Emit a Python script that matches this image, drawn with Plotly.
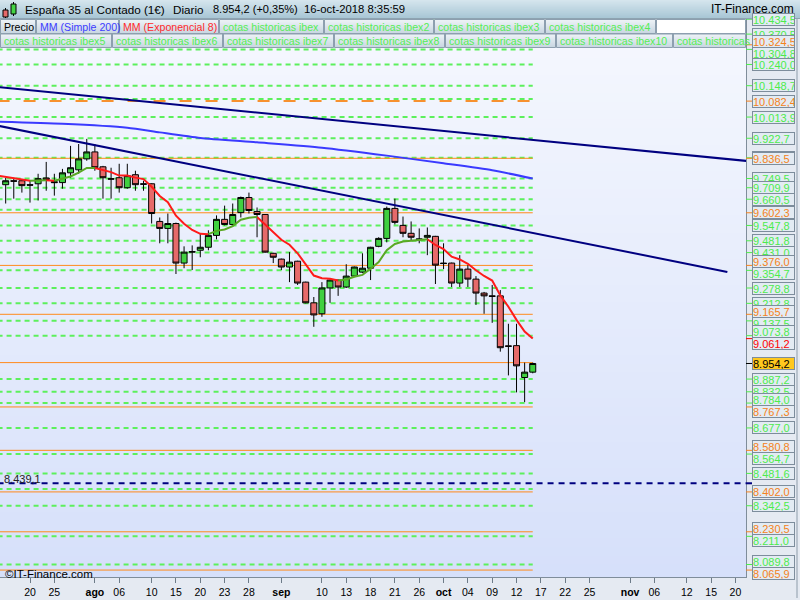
import base64, struct, zlib
import pandas as pd
import plotly.graph_objects as go

# ---------------- data ----------------
calendar = pd.bdate_range("2018-07-16", "2018-11-23")
candle_dates = pd.bdate_range("2018-07-17", "2018-10-16")

opens = [9723, 9740, 9740, 9723, 9727, 9752, 9736, 9732, 9774, 9787,
         9834, 9864, 9800, 9749, 9753, 9710, 9766, 9727, 9727, 9565,
         9535, 9556, 9386, 9433, 9441, 9454, 9505, 9574, 9552, 9603,
         9668, 9608, 9595, 9428, 9403, 9369, 9394, 9304, 9215, 9168,
         9279, 9313, 9283, 9330, 9347, 9364, 9458, 9492, 9621, 9548,
         9514, 9490, 9497, 9501, 9386, 9386, 9300, 9360, 9317, 9257,
         9245, 9245, 9030, 9031, 8894, 8917]
highs = [9753, 9753, 9742, 9740, 9770, 9821, 9770, 9791, 9890, 9898,
         9920, 9898, 9804, 9796, 9813, 9813, 9783, 9740, 9729, 9582,
         9599, 9560, 9458, 9462, 9514, 9527, 9591, 9633, 9642, 9672,
         9689, 9625, 9597, 9430, 9405, 9433, 9396, 9306, 9240, 9304,
         9315, 9315, 9381, 9371, 9428, 9456, 9497, 9629, 9663, 9586,
         9565, 9535, 9539, 9503, 9471, 9388, 9420, 9377, 9330, 9262,
         9292, 9270, 9125, 9125, 8958, 8958]
lows = [9642, 9663, 9689, 9646, 9655, 9697, 9676, 9706, 9753, 9770,
        9826, 9783, 9663, 9663, 9689, 9706, 9697, 9697, 9556, 9471,
        9471, 9339, 9364, 9356, 9411, 9441, 9488, 9548, 9548, 9582,
        9599, 9497, 9431, 9386, 9356, 9304, 9292, 9213, 9112, 9155,
        9215, 9245, 9279, 9326, 9343, 9313, 9454, 9475, 9552, 9497,
        9484, 9471, 9420, 9296, 9360, 9283, 9283, 9283, 9206, 9168,
        9129, 9005, 8903, 8830, 8788, 8912]
closes = [9740, 9738, 9719, 9721, 9749, 9745, 9732, 9774, 9796, 9834,
          9864, 9796, 9753, 9747, 9710, 9762, 9723, 9725, 9599, 9535,
          9556, 9386, 9433, 9435, 9454, 9505, 9574, 9552, 9595, 9668,
          9612, 9595, 9433, 9411, 9369, 9390, 9300, 9215, 9163, 9279,
          9313, 9283, 9330, 9369, 9364, 9454, 9492, 9621, 9561, 9514,
          9497, 9488, 9505, 9377, 9384, 9300, 9360, 9317, 9257, 9245,
          9243, 9022, 9028, 8944, 8917, 8954.2]

ema_period = 8
ema_seed = 9762  # EMA value on 2018-07-16

sma200_dates = ["2018-07-16", "2018-07-26", "2018-08-07", "2018-08-13", "2018-08-20",
                "2018-08-29", "2018-09-10", "2018-09-20", "2018-10-01", "2018-10-09",
                "2018-10-16"]
sma200_values = [9994, 9985, 9968, 9948, 9924, 9905, 9882, 9848, 9815, 9785, 9749.5]

trend1_dates = ["2018-07-16", "2018-11-22"]
trend1_values = [10143, 9823]
trend2_dates = ["2018-07-16", "2018-11-19"]
trend2_values = [9977, 9348]

green_levels = [10434.5, 10370.5, 10304.8, 10240.0, 10148.7, 10013.9, 9922.7, 9838.6,
                9749.5, 9709.9, 9660.5, 9547.8, 9481.8, 9431.0, 9354.7, 9278.8, 9212.8,
                9137.5, 9073.8, 8887.2, 8832.5, 8784.0, 8677.0, 8564.7, 8481.6, 8342.5,
                8211.0, 8089.8]
green_levels_hidden = [10091.5, 9615.0, 8414.0]
orange_levels = [10324.5, 9836.5, 9602.3, 9376.0, 9165.7, 8767.3, 8580.8, 8402.0,
                 8230.5, 8065.9]
orange_dashed_levels = [10082.4]
orange_levels_hidden = [8958.0]
support_level = 8439.1

tick_dates = ["2018-07-20", "2018-07-25", "2018-08-01", "2018-08-06", "2018-08-10",
              "2018-08-15", "2018-08-20", "2018-08-23", "2018-08-28", "2018-09-03",
              "2018-09-10", "2018-09-13", "2018-09-18", "2018-09-21", "2018-09-26",
              "2018-10-01", "2018-10-04", "2018-10-09", "2018-10-12", "2018-10-17",
              "2018-10-22", "2018-10-25", "2018-11-01", "2018-11-06", "2018-11-12",
              "2018-11-15", "2018-11-20"]
tick_labels = ["20", "25", "ago", "06", "10", "15", "20", "23", "28", "sep", "10", "13",
               "18", "21", "26", "oct", "04", "09", "12", "17", "22", "25", "nov", "06",
               "12", "15", "20"]
month_labels = {"ago", "sep", "oct", "nov"}

legend_row1 = ["Precio", "MM (Simple 200)", "MM (Exponencial 8)", "cotas historicas ibex",
               "cotas historicas ibex2", "cotas historicas ibex3", "cotas historicas ibex4", ""]
legend_row2 = ["cotas historicas ibex5", "cotas historicas ibex6", "cotas historicas ibex7",
               "cotas historicas ibex8", "cotas historicas ibex9", "cotas historicas ibex10",
               "cotas historicas"]

title_text = "España 35 al Contado (1€)"
period_text = "Diario"
price_text = "8.954,2 (+0,35%)"
time_text = "16-oct-2018 8:35:59"
brand_text = "IT-Finance.com"
copyright_text = "©IT-Finance.com"

# ---------------- helpers ----------------
pos = {d.strftime("%Y-%m-%d"): i for i, d in enumerate(calendar)}
cx = [pos[d.strftime("%Y-%m-%d")] for d in candle_dates]

W, H = 800, 600
ML, MR, MT, MB = 0, 54, 18, 23
PW, PH = W - ML - MR, H - MT - MB
YR = [8036.1, 10439.8]
XR = [0.3, 92.3]
FONT = "Liberation Sans, Arial, sans-serif"


def PX(x):
    return (x - ML) / PW


def PY(y):
    return (H - MB - y) / PH


def v2px(v):
    return MT + (YR[1] - v) / (YR[1] - YR[0]) * PH


def fmt(v):
    s = f"{v:,.1f}"
    return s.replace(",", "X").replace(".", ",").replace("X", ".")


def grad_png(c0, c1, n=64):
    raw = b""
    for i in range(n):
        t = i / (n - 1)
        raw += b"\x00" + bytes([round(a + (b - a) * t) for a, b in zip(c0, c1)])

    def chunk(typ, data):
        return (struct.pack(">I", len(data)) + typ + data +
                struct.pack(">I", zlib.crc32(typ + data) & 0xffffffff))
    png = (b"\x89PNG\r\n\x1a\n" +
           chunk(b"IHDR", struct.pack(">IIBBBBB", 1, n, 8, 2, 0, 0, 0)) +
           chunk(b"IDAT", zlib.compress(raw)) + chunk(b"IEND", b""))
    return "data:image/png;base64," + base64.b64encode(png).decode()


fig = go.Figure()
shapes, annotations, images = [], [], []

# plot background gradient
images.append(dict(source=grad_png((246, 248, 254), (214, 224, 250)), xref="paper", yref="paper",
                   x=0, y=1, sizex=1, sizey=1, sizing="stretch", xanchor="left",
                   yanchor="top", layer="below"))

# horizontal levels
x_end = pos["2018-10-16"]
for v in green_levels + green_levels_hidden:
    shapes.append(dict(type="line", xref="x", yref="y", x0=0, x1=x_end, y0=v, y1=v,
                       line=dict(color="#5cf05c", width=2, dash="5px,4px"), layer="below"))
for v in orange_levels + orange_levels_hidden:
    shapes.append(dict(type="line", xref="x", yref="y", x0=0, x1=x_end, y0=v, y1=v,
                       line=dict(color="#ff8a1c", width=1), layer="below"))
for v in orange_dashed_levels:
    shapes.append(dict(type="line", xref="x", yref="y", x0=0, x1=x_end, y0=v, y1=v,
                       line=dict(color="#f7912f", width=2, dash="12px,14px"), layer="below"))
shapes.append(dict(type="line", xref="x", yref="y", x0=0, x1=pos["2018-11-23"],
                   y0=support_level, y1=support_level,
                   line=dict(color="#000080", width=2, dash="6px,5px"), layer="below"))

# trend lines and SMA
fig.add_trace(go.Scatter(x=[pos[d] for d in trend1_dates], y=trend1_values, mode="lines",
                         line=dict(color="#000080", width=2), hoverinfo="skip"))
fig.add_trace(go.Scatter(x=[pos[d] for d in trend2_dates], y=trend2_values, mode="lines",
                         line=dict(color="#000080", width=2), hoverinfo="skip"))
fig.add_trace(go.Scatter(x=[pos[d] for d in sma200_dates], y=sma200_values, mode="lines",
                         line=dict(color="#3a3aff", width=2, shape="spline", smoothing=0.6),
                         hoverinfo="skip"))

# candles
fig.add_trace(go.Candlestick(
    x=cx, open=opens, high=highs, low=lows, close=closes, whiskerwidth=0,
    increasing=dict(fillcolor="#40d040", line=dict(color="#000000", width=1)),
    decreasing=dict(fillcolor="#e66a6a", line=dict(color="#000000", width=1)),
    hoverinfo="skip"))

# EMA 8
alpha = 2 / (ema_period + 1)
ema = [ema_seed]
for c in closes:
    ema.append(ema[-1] + alpha * (c - ema[-1]))
ema_x = [0] + cx
segs = {"up": ([], []), "dn": ([], [])}
prev = None
for i in range(1, len(ema)):
    kind = "up" if ema[i] >= ema[i - 1] else "dn"
    xs, ys = segs[kind]
    if prev != kind:
        xs.append(None); ys.append(None)
        xs.append(ema_x[i - 1]); ys.append(ema[i - 1])
    xs.append(ema_x[i]); ys.append(ema[i])
    prev = kind
for kind, col in (("dn", "#ff1a1a"), ("up", "#5aa824")):
    xs, ys = segs[kind]
    fig.add_trace(go.Scatter(x=xs, y=ys, mode="lines", connectgaps=False,
                             line=dict(color=col, width=2), hoverinfo="skip"))

# right axis labels
labels = []
for v in green_levels:
    labels.append((v, "#4cec4c", "#e3ebf3"))
for v in orange_levels + orange_dashed_levels:
    labels.append((v, "#f58220", "#e3ebf3"))
labels.append((ema[-1], "#ff0000", "#e3ebf3"))
labels.append((closes[-1], "#000000", "#ffc81e"))
labels.sort(key=lambda t: -t[0])
ys_px = [v2px(v) for v, _, _ in labels]
for i in range(len(ys_px) - 1):
    d = ys_px[i + 1] - ys_px[i]
    if 1.5 < d < 8:
        m = (ys_px[i] + ys_px[i + 1]) / 2
        ys_px[i], ys_px[i + 1] = m - 6, m + 6
for (v, fg, bg), yp in zip(labels, ys_px):
    shapes.append(dict(type="line", xref="paper", yref="y", x0=PX(746), x1=PX(752), y0=v, y1=v,
                       line=dict(color=fg, width=1)))
    annotations.append(dict(xref="paper", yref="paper", x=PX(752), y=PY(yp), xanchor="left",
                            yanchor="middle", text=fmt(v), showarrow=False, align="left",
                            width=41, height=11, borderpad=0, bgcolor=bg,
                            bordercolor="#7d8d9c", borderwidth=1,
                            font=dict(family=FONT, size=11, color=fg)))
shapes.append(dict(type="line", xref="paper", yref="y", x0=PX(746), x1=PX(752),
                   y0=support_level, y1=support_level, line=dict(color="#000080", width=2)))
shapes.append(dict(type="line", xref="paper", yref="paper", x0=PX(797), x1=PX(797),
                   y0=PY(19), y1=PY(598), line=dict(color="#8d9caa", width=1)))
annotations.append(dict(xref="paper", yref="y", x=PX(2), y=support_level, xanchor="left",
                        yanchor="bottom", text=fmt(support_level), showarrow=False, yshift=-4,
                        font=dict(family=FONT, size=11, color="#222222")))
annotations.append(dict(xref="paper", yref="paper", x=PX(3), y=PY(574), xanchor="left",
                        yanchor="middle", text=copyright_text, showarrow=False,
                        font=dict(family=FONT, size=11.5, color="#000000")))

# title bar
images.append(dict(source=grad_png((214, 230, 238), (168, 198, 213)), xref="paper", yref="paper",
                   x=PX(0), y=PY(0), sizex=W / PW, sizey=18 / PH, sizing="stretch",
                   xanchor="left", yanchor="top", layer="above"))
shapes.append(dict(type="line", xref="paper", yref="paper", x0=PX(0), x1=PX(800), y0=PY(18.5),
                   y1=PY(18.5), line=dict(color="#8ea3b1", width=1)))
for xt, txt, fs in ((23, title_text, 11.7), (171, period_text, 11.7), (211, price_text, 11),
                    (302, time_text, 11.3)):
    annotations.append(dict(xref="paper", yref="paper", x=PX(xt), y=PY(9.5), xanchor="left",
                            yanchor="middle", text=txt, showarrow=False,
                            font=dict(family=FONT, size=fs, color="#000000")))
annotations.append(dict(xref="paper", yref="paper", x=PX(796), y=PY(9.5), xanchor="right",
                        yanchor="middle", text=brand_text, showarrow=False,
                        font=dict(family=FONT, size=12, color="#000000")))
# icon
for x0, x1, y0, y1, wy0, wy1, col in ((3, 8, 10, 17, 8, 18, "#e66a6a"),
                                       (11, 16, 4, 14, 2, 16, "#45d445")):
    shapes.append(dict(type="line", xref="paper", yref="paper", x0=PX((x0 + x1) / 2),
                       x1=PX((x0 + x1) / 2), y0=PY(wy0), y1=PY(wy1),
                       line=dict(color="#000000", width=1)))
    shapes.append(dict(type="rect", xref="paper", yref="paper", x0=PX(x0), x1=PX(x1),
                       y0=PY(y0), y1=PY(y1), fillcolor=col, line=dict(color="#000000", width=1)))

# legend boxes
row1_w = [36, 83, 100, 105, 110, 111, 111, 90]
row2_w = [112, 111, 111, 111, 111, 117, 80]
row1_col = ["#000000", "#3c3cff", "#ff2a2a"] + ["#55ee55"] * 5
box_grad = grad_png((238, 243, 247), (200, 214, 225))
for row, widths, cols, (ya, yb) in ((legend_row1, row1_w, row1_col, (19.5, 33.5)),
                                    (legend_row2, row2_w, ["#55ee55"] * 7, (34, 47.5))):
    x = 0
    for name, w, col in zip(row, widths, cols):
        w = min(w, 746 - x)
        if name:
            images.append(dict(source=box_grad, xref="paper", yref="paper", x=PX(x), y=PY(ya),
                               sizex=w / PW, sizey=(yb - ya) / PH, sizing="stretch",
                               xanchor="left", yanchor="top", layer="above"))
            annotations.append(dict(xref="paper", yref="paper", x=PX(x + 2), y=PY((ya + yb) / 2),
                                    xanchor="left", yanchor="middle", text=name, showarrow=False,
                                    font=dict(family=FONT, size=10.6, color=col)))
            shapes.append(dict(type="rect", xref="paper", yref="paper", x0=PX(x + 0.5),
                               x1=PX(x + w - 0.5), y0=PY(ya), y1=PY(yb),
                               line=dict(color="#8d9faf", width=1)))
        else:
            shapes.append(dict(type="rect", xref="paper", yref="paper", x0=PX(x + 0.5),
                               x1=PX(x + w - 0.5), y0=PY(ya), y1=PY(yb), fillcolor="#ffffff",
                               line=dict(color="#8d9faf", width=1)))
        x += w

ticktext = [f"<b>{t}</b>" if t in month_labels else t for t in tick_labels]

fig.update_layout(
    width=W, height=H, margin=dict(l=ML, r=MR, t=MT, b=MB, pad=0),
    paper_bgcolor="#e5eaf2", plot_bgcolor="rgba(0,0,0,0)", showlegend=False,
    boxgap=0.26, boxgroupgap=0,
    shapes=shapes, annotations=annotations, images=images,
    xaxis=dict(range=XR, tickvals=[pos[d] for d in tick_dates], ticktext=ticktext,
               ticks="outside", ticklen=5, tickcolor="#6d7b88", showgrid=False, zeroline=False,
               showline=True, linecolor="#7f8d9a", rangeslider=dict(visible=False),
               tickfont=dict(family=FONT, size=10.5, color="#000000")),
    yaxis=dict(range=YR, side="right", showticklabels=False, ticks="", showgrid=False,
               zeroline=False, showline=True, linecolor="#7f8d9a", mirror=True),
)
fig.write_html("out.html", config={"displayModeBar": False},
               post_script="document.body.style.margin='0px';"
                           "document.body.style.overflow='hidden';")
